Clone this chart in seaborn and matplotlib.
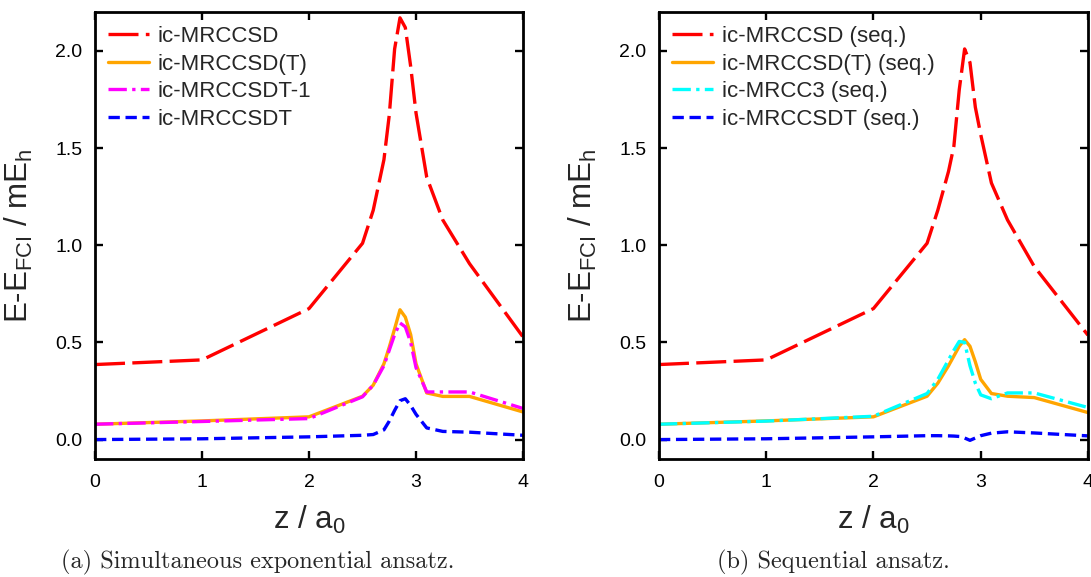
import matplotlib
matplotlib.use("Agg")
import matplotlib.pyplot as plt
import seaborn as sns
import numpy as np

# bond coordinate z / a0
z = [0.0, 1.0, 2.0, 2.5, 2.6, 2.7, 2.75, 2.8, 2.85, 2.9, 2.95, 3.0, 3.1, 3.25, 3.5, 4.0]

# (a) simultaneous exponential ansatz, E - E_FCI in mE_h
sim_ccsd = [0.386, 0.41, 0.674, 1.01, 1.18, 1.44, 1.67, 2.01, 2.17, 2.12, 1.92, 1.68, 1.35, 1.13, 0.905, 0.528]
sim_ccsd_t = [0.079, 0.096, 0.117, 0.223, 0.28, 0.39, 0.476, 0.57, 0.668, 0.63, 0.54, 0.39, 0.24, 0.222, 0.222, 0.142]
sim_ccsdt1 = [0.079, 0.093, 0.108, 0.22, 0.28, 0.38, 0.46, 0.54, 0.60, 0.58, 0.50, 0.37, 0.245, 0.245, 0.245, 0.16]
sim_ccsdt = [0.0, 0.004, 0.014, 0.022, 0.026, 0.05, 0.095, 0.15, 0.20, 0.21, 0.175, 0.13, 0.06, 0.042, 0.038, 0.022]

# (b) sequential ansatz
seq_ccsd = [0.386, 0.41, 0.674, 1.01, 1.18, 1.38, 1.51, 1.80, 2.01, 1.94, 1.71, 1.57, 1.32, 1.13, 0.89, 0.537]
seq_ccsd_t = [0.079, 0.096, 0.117, 0.223, 0.29, 0.38, 0.43, 0.48, 0.514, 0.48, 0.40, 0.31, 0.237, 0.223, 0.216, 0.139]
seq_cc3 = [0.079, 0.095, 0.12, 0.237, 0.31, 0.41, 0.46, 0.505, 0.50, 0.38, 0.29, 0.23, 0.21, 0.24, 0.24, 0.165]
seq_ccsdt = [0.0, 0.004, 0.014, 0.02, 0.02, 0.019, 0.018, 0.016, 0.008, -0.004, 0.008, 0.02, 0.033, 0.04, 0.034, 0.019]

labels_a = ["ic-MRCCSD", "ic-MRCCSD(T)", "ic-MRCCSDT-1", "ic-MRCCSDT"]
labels_b = ["ic-MRCCSD (seq.)", "ic-MRCCSD(T) (seq.)", "ic-MRCC3 (seq.)", "ic-MRCCSDT (seq.)"]

xticks = [0, 1, 2, 3, 4]
yticks = [0.0, 0.5, 1.0, 1.5, 2.0]

sns.set_theme(style="ticks")
plt.rcParams["font.family"] = ["Liberation Sans", "DejaVu Sans"]
plt.rcParams["mathtext.fontset"] = "custom"
plt.rcParams["mathtext.rm"] = "Liberation Sans"
plt.rcParams["mathtext.it"] = "Liberation Sans:italic"

styles_a = [
    ("#ff0000", (0, (9, 2.2))),
    ("#ffa500", "-"),
    ("#ff00ff", (0, (5.5, 1.6, 1.0, 1.6))),
    ("#0000ff", (0, (3.4, 1.7))),
]
styles_b = [
    ("#ff0000", (0, (9, 2.2))),
    ("#ffa500", "-"),
    ("#00ffff", (0, (5.5, 1.6, 1.0, 1.6))),
    ("#0000ff", (0, (3.4, 1.7))),
]

fig = plt.figure(figsize=(10.91, 5.77), dpi=100)
ax_a = fig.add_axes([0.0871, 0.2045, 0.3923, 0.7747])
ax_b = fig.add_axes([0.6040, 0.2045, 0.3932, 0.7747])

panels = [
    (ax_a, [sim_ccsd, sim_ccsd_t, sim_ccsdt1, sim_ccsdt], labels_a, styles_a),
    (ax_b, [seq_ccsd, seq_ccsd_t, seq_cc3, seq_ccsdt], labels_b, styles_b),
]

for ax, series, labels, styles in panels:
    for vals, lab, (col, ls) in zip(series, labels, styles):
        sns.lineplot(x=z, y=vals, ax=ax, color=col, linestyle=ls,
                     linewidth=2.4, label=lab, sort=False)
    ax.set_xlim(0, 4)
    ax.set_ylim(-0.1, 2.2)
    ax.set_xticks(xticks)
    ax.set_yticks(yticks)
    ax.set_xticklabels([str(t) for t in xticks])
    ax.set_yticklabels([f"{t:.1f}" for t in yticks])
    ax.tick_params(direction="in", length=6, width=1.7, top=True, right=True,
                   labelsize=14, colors="black")
    ax.tick_params(axis="x", pad=11)
    ax.tick_params(axis="y", pad=9)
    for sp in ax.spines.values():
        sp.set_visible(True)
        sp.set_linewidth(2.0)
        sp.set_color("black")
    ax.set_xlabel(r"z / a$_{\rm 0}$", fontsize=22.5)
    ax.set_ylabel(r"E-E$_{\rm FCI}$ / mE$_{\rm h}$", fontsize=22.5)
    ax.xaxis.set_label_coords(0.5, -0.1)
    ax.yaxis.set_label_coords(-0.14, 0.5)
    ax.legend(loc="upper left", bbox_to_anchor=(0.03, 0.969), frameon=False,
              fontsize=16, handlelength=1.85, handletextpad=0.4,
              labelspacing=0.3, borderpad=0, borderaxespad=0)

fig.text(258 / 1091, 1 - 562 / 577, "(a) Simultaneous exponential ansatz.",
         family="cmr10", fontsize=17.5, ha="center", va="center")
fig.text(833 / 1091, 1 - 562 / 577, "(b) Sequential ansatz.",
         family="cmr10", fontsize=17.5, ha="center", va="center")

fig.savefig("out.png", dpi=100)
